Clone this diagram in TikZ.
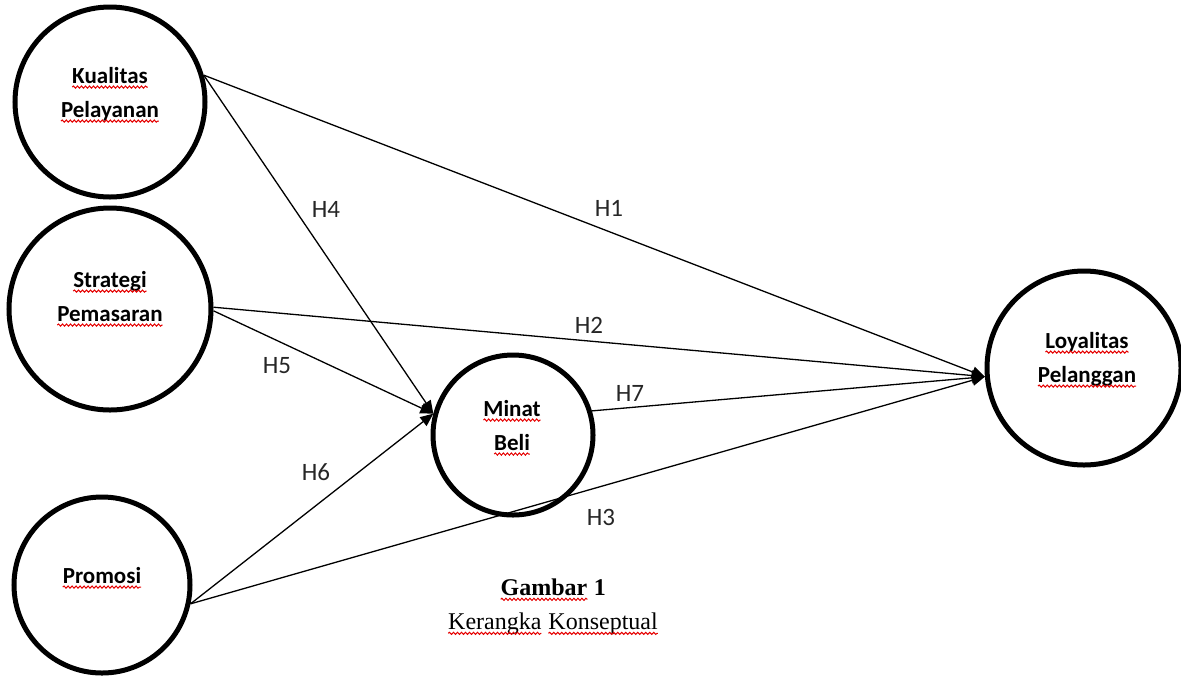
\documentclass[tikz,border=0pt]{standalone}
\usepackage{fontspec}
\setmainfont{Carlito}
\newfontfamily\capfont{Liberation Serif}
\usetikzlibrary{arrows.meta}
\usetikzlibrary{decorations.pathmorphing}

% red wavy underline under a word
\newcommand\spell[1]{\tikz[baseline=(w.base)]{\node[inner sep=0pt,outer sep=0pt] (w) {#1};
\draw[red!90!black, line width=0.5pt, decorate, decoration={snake, amplitude=0.55pt, segment length=2pt}] ([yshift=-1.8pt]w.base west) -- ([yshift=-1.8pt]w.base east);}}

\tikzset{
  var/.style={circle, draw, line width=2.5pt, inner sep=0pt},
  vartext/.style={font=\bfseries\fontsize{11.5}{17}\selectfont, align=center, inner sep=0pt},
  link/.style={-{Triangle[length=6.5pt,width=5.5pt]}, line width=0.65pt},
  hlabel/.style={font=\fontsize{12.5}{15}\selectfont, text=black!85, inner sep=1pt}
}

\begin{document}
\begin{tikzpicture}[x=0.5pt, y=-0.5pt]
\useasboundingbox (0,0) rectangle (1181,676);

% variables
\node[var, minimum size=95pt]  (kual)  at (110,102) {};
\node[var, minimum size=101pt] (strat) at (110,309) {};
\node[var, minimum size=88pt]  (prom)  at (102,585) {};
\node[var, minimum size=80pt]  (minat) at (513,435) {};
\node[var, minimum size=97pt]  (loy)   at (1084,368) {};

\node[vartext] (kualt)  at (110,95)  {\spell{Kualitas}\\\spell{Pelayanan}};
\node[vartext] (stratt) at (110,299) {\spell{Strategi}\\\spell{Pemasaran}};
\node[vartext] (promt)  at (102,578) {\spell{Promosi}};
\node[vartext] (minatt) at (512,428) {\spell{Minat}\\\spell{Beli}};
\node[vartext] (loyt)   at (1087,360) {\spell{Loyalitas}\\\spell{Pelanggan}};

% hypotheses
\draw[link] (kual.16)   -- (loy.185);
\draw[link] (kual.16)   -- (minat.165);
\draw[link] (strat.1)   -- (loy.185);
\draw[link] (strat.-1)  -- (minat.165);
\draw[link] (prom.-12)  -- (minat.165);
\draw[link] (prom.-12)  -- (loy.185);
\draw[link] (minat.17)  -- (loy.185);

\node[hlabel] (h4) at (326,209) {H4};
\node[hlabel] (h1) at (609,208) {H1};
\node[hlabel] (h2) at (589,325) {H2};
\node[hlabel] (h5) at (277,366) {H5};
\node[hlabel] (h7) at (630,393) {H7};
\node[hlabel] (h6) at (316,472) {H6};
\node[hlabel] (h3) at (601,517) {H3};

% caption
\node[font=\capfont\bfseries\fontsize{12}{14}\selectfont, inner sep=0pt] (cap1) at (553,590) {\spell{Gambar} 1};
\node[font=\capfont\fontsize{12}{14}\selectfont, inner sep=0pt] (cap2) at (553,624) {\spell{Kerangka} \spell{Konseptual}};

\end{tikzpicture}
\end{document}
